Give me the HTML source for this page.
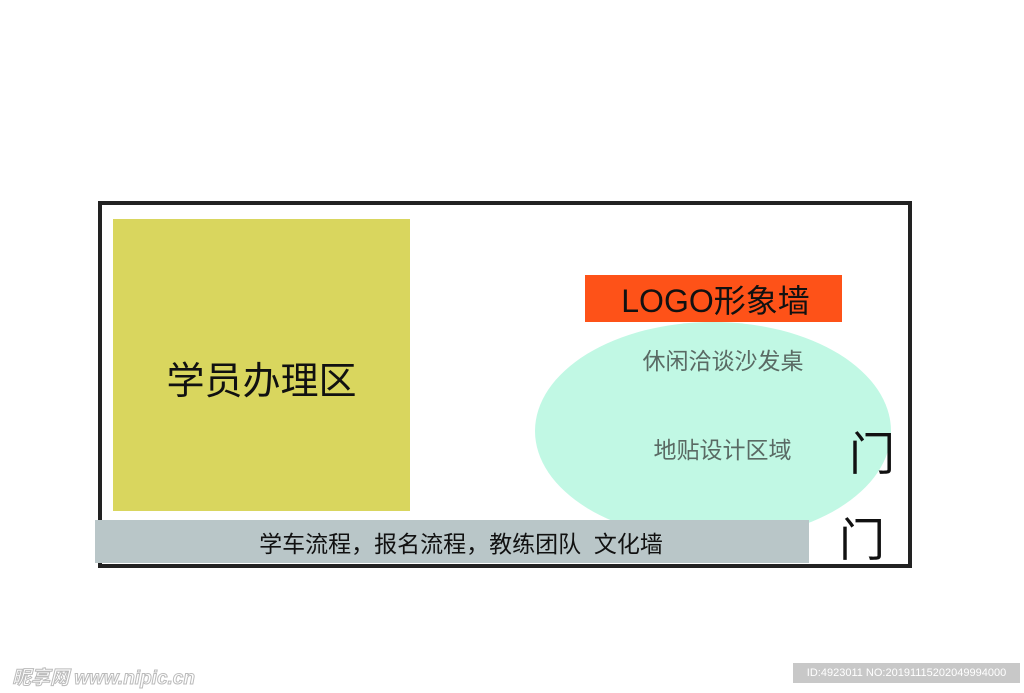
<!DOCTYPE html>
<html><head><meta charset="utf-8"><style>
body{margin:0;width:1024px;height:693px;background:#fff;position:relative;overflow:hidden;font-family:"Liberation Sans","Noto Sans CJK SC",sans-serif}
div{position:absolute;box-sizing:border-box}
.c{display:flex;align-items:center;justify-content:center;white-space:nowrap}
</style></head><body>
<div style="left:98px;top:201px;width:814px;height:367px;border:4px solid #222"></div>
<div class="c" style="left:113px;top:219px;width:297px;height:292px;background:#d9d65e;font-size:38px;color:#111;padding-top:24px">学员办理区</div>
<div style="left:535px;top:322px;width:356px;height:218px;border-radius:50%;background:#c1f8e4"></div>
<div class="c" style="left:585px;top:275px;width:257px;height:47px;background:#fe5218;font-size:32px;color:#111;padding-left:4px">LOGO形象墙</div>
<div class="c" style="left:618px;top:343px;width:210px;height:32px;font-size:23px;color:#5a6a64">休闲洽谈沙发桌</div>
<div class="c" style="left:620px;top:432px;width:205px;height:32px;font-size:23px;color:#5a6a64">地贴设计区域</div>
<div class="c" style="left:95px;top:520px;width:714px;height:43px;background:#b9c6c8;font-size:23px;color:#111;padding-left:18px">学车流程，报名流程，教练团队&nbsp;&nbsp;文化墙</div>
<div class="c" style="left:846px;top:424px;width:52px;height:54px;font-size:46px;color:#111">门</div>
<div class="c" style="left:836px;top:510px;width:52px;height:54px;font-size:46px;color:#111">门</div>
<div style="left:12px;top:663px;font-size:19px;color:#fff;-webkit-text-stroke:1px #bbb;font-style:italic;font-weight:bold">昵享网 www.nipic.cn</div>
<div class="c" style="left:793px;top:663px;width:227px;height:20px;background:#c8c8c8;color:#fff;font-size:11px">ID:4923011 NO:20191115202049994000</div>
</body></html>
